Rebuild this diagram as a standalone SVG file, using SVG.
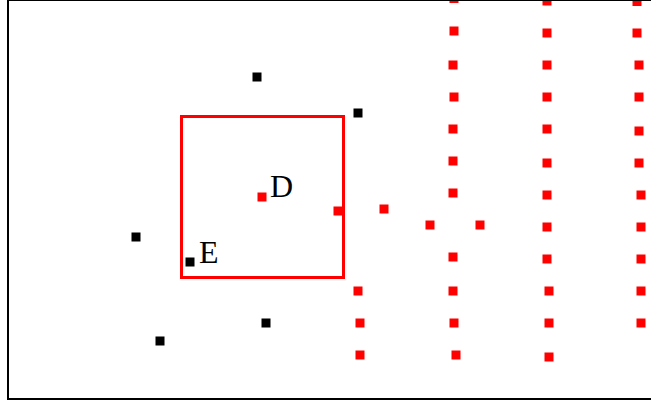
<svg xmlns="http://www.w3.org/2000/svg" width="651" height="402" viewBox="0 0 651 402">
<style>
.r{fill:#ff0000}
.k{fill:#000000}
.lbl{font-family:"Liberation Serif","Times New Roman",serif;font-size:32px;fill:#000}
</style>
<defs>
<rect id="sq" x="-4.5" y="-4.5" width="9" height="9"/>
</defs>
<rect x="0" y="0" width="651" height="402" fill="#ffffff"/>
<g id="box"><rect x="181.5" y="116.5" width="162" height="161" fill="none" stroke="#ff0000" stroke-width="3"/></g>
<g id="black-points" class="k">
<use href="#sq" x="257" y="77"/>
<use href="#sq" x="358" y="113"/>
<use href="#sq" x="136" y="237"/>
<use href="#sq" x="266" y="323"/>
<use href="#sq" x="160" y="341"/>
</g>
<g id="E"><use href="#sq" x="190" y="262" class="k"/><text class="lbl" x="199" y="263">E</text></g>
<g id="D"><use href="#sq" x="262" y="197" class="r"/><text class="lbl" x="270" y="197">D</text></g>
<g id="red-points" class="r">
<use href="#sq" x="338" y="211"/>
<use href="#sq" x="384" y="209"/>
<use href="#sq" x="430" y="225"/>
<use href="#sq" x="480" y="225"/>
<use href="#sq" x="358" y="291"/>
<use href="#sq" x="360" y="323"/>
<use href="#sq" x="360" y="355"/>
</g>
<g id="col1" class="r">
<use href="#sq" x="454" y="-1.5"/>
<use href="#sq" x="454" y="31"/>
<use href="#sq" x="453" y="65"/>
<use href="#sq" x="454" y="97"/>
<use href="#sq" x="453" y="129"/>
<use href="#sq" x="453" y="161"/>
<use href="#sq" x="453" y="193"/>
<use href="#sq" x="453" y="257"/>
<use href="#sq" x="453" y="291"/>
<use href="#sq" x="454" y="323"/>
<use href="#sq" x="456" y="355"/>
</g>
<g id="col2" class="r">
<use href="#sq" x="547" y="1"/>
<use href="#sq" x="547" y="33"/>
<use href="#sq" x="547" y="65"/>
<use href="#sq" x="547" y="97"/>
<use href="#sq" x="547" y="129"/>
<use href="#sq" x="547" y="163"/>
<use href="#sq" x="547" y="195"/>
<use href="#sq" x="547" y="227"/>
<use href="#sq" x="547" y="259"/>
<use href="#sq" x="549" y="291"/>
<use href="#sq" x="549" y="323"/>
<use href="#sq" x="549" y="357"/>
</g>
<g id="col3" class="r">
<use href="#sq" x="637" y="1.5"/>
<use href="#sq" x="637" y="33"/>
<use href="#sq" x="639" y="65"/>
<use href="#sq" x="639" y="97"/>
<use href="#sq" x="639" y="131"/>
<use href="#sq" x="639" y="163"/>
<use href="#sq" x="641" y="195"/>
<use href="#sq" x="641" y="227"/>
<use href="#sq" x="641" y="259"/>
<use href="#sq" x="641" y="291"/>
<use href="#sq" x="641" y="323"/>
</g>
<g id="frame"><rect x="8" y="0" width="700" height="399" fill="none" stroke="#000" stroke-width="2"/></g>
</svg>
